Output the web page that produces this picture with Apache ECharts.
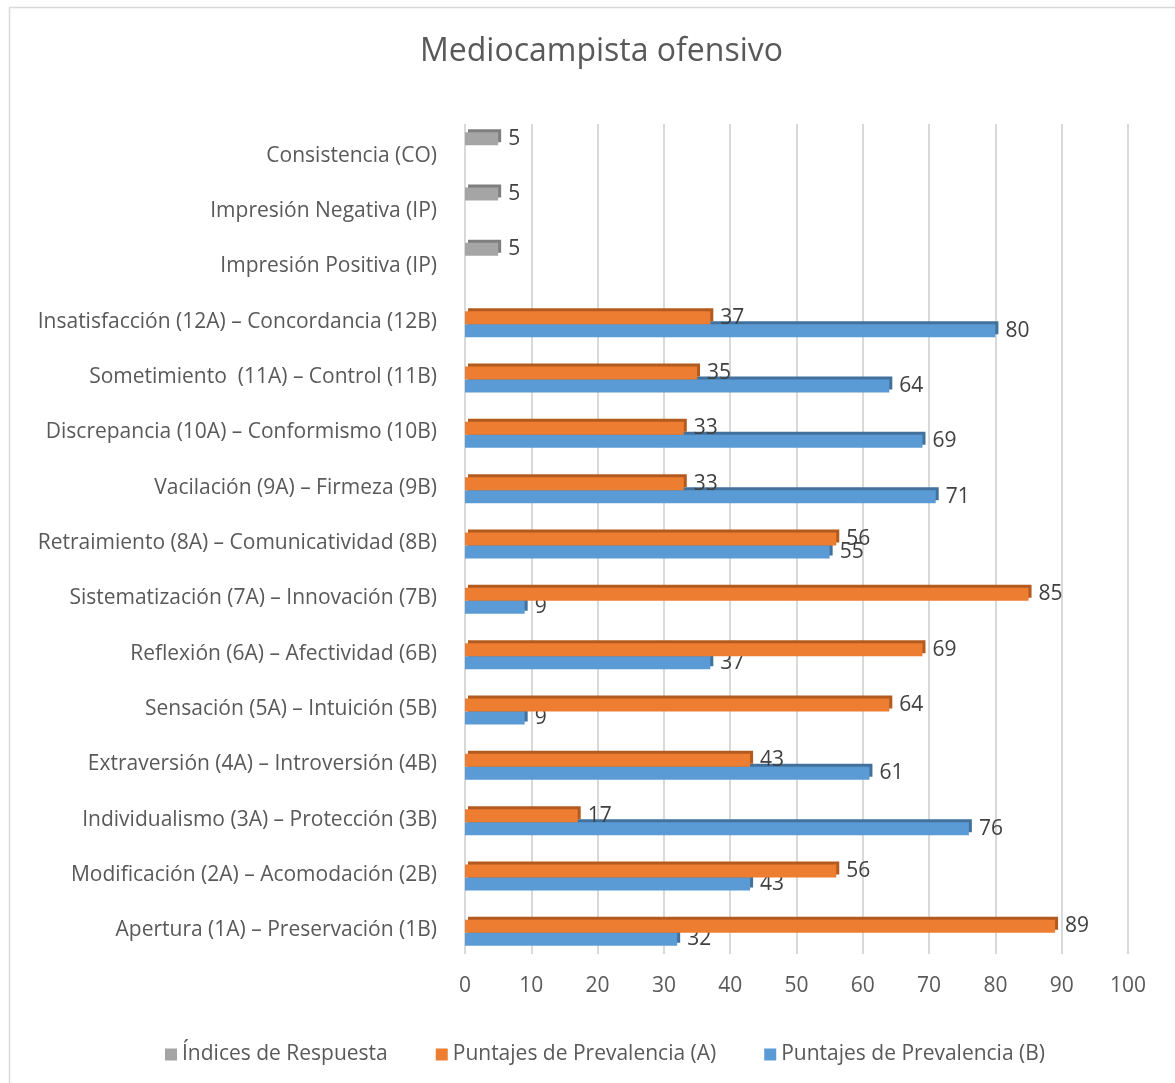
<!DOCTYPE html>
<html>
<head>
<meta charset="utf-8">
<script src="https://cdn.jsdelivr.net/npm/echarts@6/dist/echarts.min.js"></script>
<style>
  html, body { margin: 0; padding: 0; background: #fff; }
  #main { width: 1175px; height: 1083px; }
</style>
</head>
<body>
<div id="main"></div>
<script>
// categories, bottom to top
const categories = [
    'Apertura (1A) – Preservación (1B)',
    'Modificación (2A) – Acomodación (2B)',
    'Individualismo (3A) – Protección (3B)',
    'Extraversión (4A) – Introversión (4B)',
    'Sensación (5A) – Intuición (5B)',
    'Reflexión (6A) – Afectividad (6B)',
    'Sistematización (7A) – Innovación (7B)',
    'Retraimiento (8A) – Comunicatividad (8B)',
    'Vacilación (9A) – Firmeza (9B)',
    'Discrepancia (10A) – Conformismo (10B)',
    'Sometimiento  (11A) – Control (11B)',
    'Insatisfacción (12A) – Concordancia (12B)',
    'Impresión Positiva (IP)',
    'Impresión Negativa (IP)',
    'Consistencia (CO)'
];
const prevalenciaB = [32, 43, 76, 61, 9, 37, 9, 55, 71, 69, 64, 80, null, null, null];
const prevalenciaA = [89, 56, 17, 43, 64, 69, 85, 56, 33, 33, 35, 37, null, null, null];
const indices = [null, null, null, null, null, null, null, null, null, null, null, null, 5, 5, 5];
const xTicks = [0, 10, 20, 30, 40, 50, 60, 70, 80, 90, 100];

const FONT = 'Open Sans';
const TXT = '#595959';

let chart = echarts.init(document.getElementById('main'));

function barSeries(name, data, color, side, z) {
    return {
        name: name,
        type: 'bar',
        data: data,
        z: z,
        barWidth: 13,
        barGap: '0%',
        itemStyle: {
            color: color,
            shadowColor: side,
            shadowOffsetX: 3,
            shadowOffsetY: -3,
            shadowBlur: 0
        },
        label: {
            show: true,
            position: 'right',
            distance: 10,
            color: '#404040',
            fontFamily: FONT,
            fontSize: 21
        },
        emphasis: { disabled: true }
    };
}

let option = {
    animation: false,
    backgroundColor: '#fff',
    textStyle: { fontFamily: FONT },
    graphic: [{
        type: 'rect',
        shape: { x: 9.5, y: 7.5, width: 1300, height: 1300 },
        style: { fill: 'none', stroke: '#d9d9d9', lineWidth: 1.5 },
        silent: true
    }],
    title: {
        text: 'Mediocampista ofensivo',
        left: 415,
        top: 31,
        textStyle: { color: TXT, fontFamily: FONT, fontSize: 32, fontWeight: 'normal' }
    },
    legend: {
        left: 160,
        top: 1039,
        itemWidth: 12,
        itemHeight: 12,
        itemGap: 48,
        icon: 'rect',
        data: ['Índices de Respuesta', 'Puntajes de Prevalencia (A)', 'Puntajes de Prevalencia (B)'],
        textStyle: { color: TXT, fontFamily: FONT, fontSize: 21 }
    },
    grid: {
        left: 465,
        right: 47,
        top: 124,
        bottom: 129,
        containLabel: false
    },
    xAxis: {
        type: 'value',
        min: xTicks[0],
        max: xTicks[xTicks.length - 1],
        interval: 10,
        axisLine: { show: false },
        axisTick: { show: false },
        axisLabel: { color: TXT, fontFamily: FONT, fontSize: 21, margin: 22 },
        splitLine: { lineStyle: { color: '#d9d9d9', width: 2 } }
    },
    yAxis: {
        type: 'category',
        data: categories,
        axisLine: { show: false },
        axisTick: { show: false },
        axisLabel: {
            margin: 28,
            formatter: v => '{a|' + v + '}',
            rich: {
                a: { color: TXT, fontFamily: FONT, fontSize: 21, padding: [8, 0, 0, 0] }
            }
        }
    },
    // first series sits in the top slot of each category
    series: [
        barSeries('Índices de Respuesta', indices, '#A5A5A5', '#7F7F7F', 2),
        barSeries('Puntajes de Prevalencia (A)', prevalenciaA, '#ED7D31', '#B35A1F', 4),
        barSeries('Puntajes de Prevalencia (B)', prevalenciaB, '#5B9BD5', '#41719C', 3)
    ]
};

chart.setOption(option);
</script>
</body>
</html>
